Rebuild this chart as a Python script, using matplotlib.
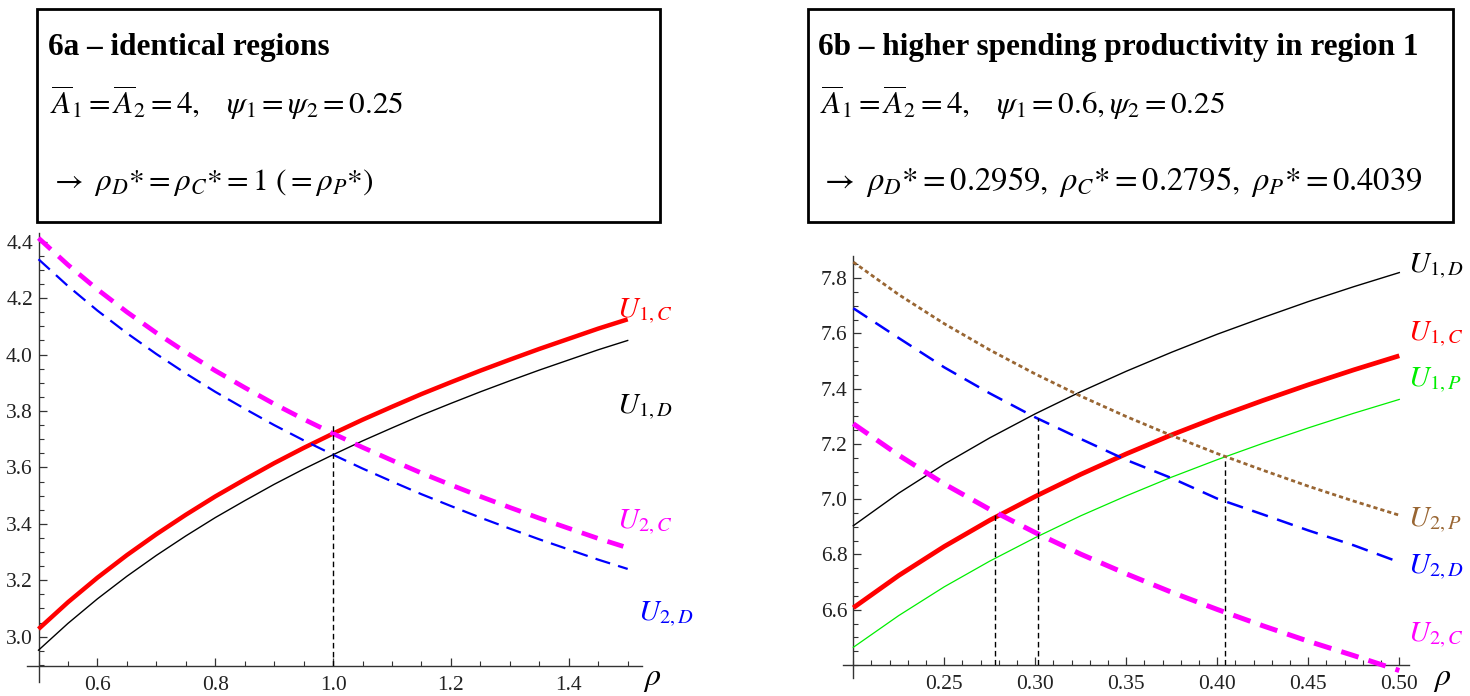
import matplotlib
matplotlib.use('Agg')
import matplotlib.pyplot as plt
from matplotlib.patches import Rectangle
from matplotlib.ticker import FixedLocator, MultipleLocator, FormatStrFormatter

plt.rcParams['font.family'] = ['Liberation Serif', 'DejaVu Serif']
plt.rcParams['mathtext.fontset'] = 'stix'
plt.rcParams['lines.scale_dashes'] = False

# ---------------- data : panel 6a ----------------
rho_a = [0.5, 0.55, 0.6, 0.65, 0.7, 0.75, 0.8, 0.85, 0.9, 0.95, 1.0,
         1.05, 1.1, 1.15, 1.2, 1.25, 1.3, 1.35, 1.4, 1.45, 1.5]
u1c_a = [3.027, 3.122, 3.209, 3.289, 3.363, 3.432, 3.497, 3.557, 3.615, 3.669, 3.720,
         3.769, 3.815, 3.860, 3.902, 3.943, 3.982, 4.020, 4.056, 4.092, 4.125]
u1d_a = [2.952, 3.047, 3.134, 3.214, 3.288, 3.357, 3.422, 3.482, 3.540, 3.594, 3.645,
         3.694, 3.740, 3.785, 3.827, 3.868, 3.907, 3.945, 3.981, 4.017, 4.050]
u2c_a = [4.413, 4.318, 4.231, 4.151, 4.077, 4.008, 3.943, 3.883, 3.825, 3.771, 3.720,
         3.671, 3.625, 3.580, 3.538, 3.497, 3.458, 3.420, 3.384, 3.348, 3.315]
u2d_a = [4.338, 4.243, 4.156, 4.076, 4.002, 3.933, 3.868, 3.808, 3.750, 3.696, 3.645,
         3.596, 3.550, 3.505, 3.463, 3.422, 3.383, 3.345, 3.309, 3.273, 3.240]
vline_a_x = [1.0]
vline_a_top = [3.752]
xticks_a = [0.6, 0.8, 1.0, 1.2, 1.4]
yticks_a = [3.0, 3.2, 3.4, 3.6, 3.8, 4.0, 4.2, 4.4]

# ---------------- data : panel 6b ----------------
rho_b = [0.2, 0.225, 0.25, 0.275, 0.3, 0.325, 0.35, 0.375, 0.4, 0.425, 0.45, 0.475, 0.5]
u1d_b = [6.904, 7.022, 7.127, 7.222, 7.309, 7.389, 7.463, 7.532, 7.597, 7.657, 7.715, 7.769, 7.820]
u1c_b = [6.607, 6.724, 6.829, 6.924, 7.010, 7.090, 7.164, 7.233, 7.297, 7.357, 7.414, 7.468, 7.519]
u1p_b = [6.464, 6.579, 6.683, 6.776, 6.861, 6.940, 7.012, 7.080, 7.143, 7.202, 7.258, 7.311, 7.361]
u2p_b = [7.858, 7.740, 7.635, 7.540, 7.453, 7.373, 7.299, 7.230, 7.165, 7.105, 7.047, 6.993, 6.942]
u2d_b = [7.691, 7.583, 7.477, 7.383, 7.296, 7.218, 7.142, 7.076, 7.002, 6.945, 6.887, 6.833, 6.772]
u2c_b = [7.273, 7.159, 7.055, 6.963, 6.879, 6.801, 6.730, 6.663, 6.601, 6.542, 6.486, 6.434, 6.380]
vline_b_x = [0.278, 0.3015, 0.4045]
vline_b_top = [6.955, 7.292, 7.150]
xticks_b = [0.25, 0.30, 0.35, 0.40, 0.45, 0.50]
yticks_b = [6.6, 6.8, 7.0, 7.2, 7.4, 7.6, 7.8]

W, H = 1470, 696
fig = plt.figure(figsize=(W / 100, H / 100), dpi=100)


def px_axes(l, r, t, b):
    return fig.add_axes([l / W, 1 - b / H, (r - l) / W, (b - t) / H])


def style_axes(ax, xt, yt, xminor, yminor, xfmt, yfmt, xext, yext):
    for s in ax.spines.values():
        s.set_visible(False)
    ax.plot([xext, 1], [0, 0], transform=ax.transAxes, color='#333333', lw=1.0, clip_on=False)
    ax.plot([0, 0], [yext, 1], transform=ax.transAxes, color='#333333', lw=1.0, clip_on=False)
    ax.xaxis.set_major_locator(FixedLocator(xt))
    ax.yaxis.set_major_locator(FixedLocator(yt))
    ax.xaxis.set_minor_locator(MultipleLocator(xminor))
    ax.yaxis.set_minor_locator(MultipleLocator(yminor))
    ax.xaxis.set_major_formatter(FormatStrFormatter(xfmt))
    ax.yaxis.set_major_formatter(FormatStrFormatter(yfmt))
    ax.tick_params(which='both', direction='in', top=False, right=False, colors='#333333',
                   labelcolor='#222222', labelsize=15.5)
    ax.tick_params(which='major', length=6, width=0.9)
    ax.tick_params(which='minor', length=3.5, width=0.8)
    ax.tick_params(axis='x', which='major', pad=7.5)
    ax.tick_params(axis='y', which='major', pad=4.0)
    ax.set_facecolor('none')


RED = '#ff0000'
MAG = '#ff00ff'
BLUE = '#0000ff'
GREEN = '#00ee00'
BROWN = '#996633'

# ---------------- panel 6a ----------------
axa = px_axes(38.5, 641.7, 233, 665.7)
axa.set_xlim(0.5, 1.5238)
axa.set_ylim(2.897, 4.431)
style_axes(axa, xticks_a, yticks_a, 0.05, 0.05, '%.1f', '%.1f', -0.019, -0.038)

axa.plot(rho_a, u1d_a, color='black', lw=1.0, clip_on=False)
axa.plot(rho_a, u1c_a, color=RED, lw=3.2, solid_capstyle='butt', clip_on=False)
axa.plot(rho_a, u2d_a, color=BLUE, lw=1.6, dashes=(11, 6), clip_on=False)
axa.plot(rho_a, u2c_a, color=MAG, lw=3.4, dashes=(12, 7.5), clip_on=False)
for x, top in zip(vline_a_x, vline_a_top):
    axa.plot([x, x], [2.897, top], color='black', lw=1.0, dashes=(4, 2.5))

lab = dict(fontsize=21, ha='left', va='baseline', clip_on=False)
axa.text(1.482, 4.133, r'$U_{1,C}$', color=RED, **lab)
axa.text(1.482, 3.793, r'$U_{1,D}$', color='black', **lab)
axa.text(1.482, 3.385, r'$U_{2,C}$', color=MAG, **lab)
axa.text(1.518, 3.056, r'$U_{2,D}$', color=BLUE, **lab)

# ---------------- panel 6b ----------------
axb = px_axes(853.3, 1409.3, 256, 665)
axb.set_xlim(0.2, 0.5055)
axb.set_ylim(6.4, 7.88)
style_axes(axb, xticks_b, yticks_b, 0.01, 0.05, '%.2f', '%.1f', -0.019, -0.032)

axb.plot(rho_b, u1d_b, color='black', lw=1.0, clip_on=False)
axb.plot(rho_b, u1p_b, color=GREEN, lw=0.9, clip_on=False)
axb.plot(rho_b, u1c_b, color=RED, lw=3.4, solid_capstyle='butt', clip_on=False)
axb.plot(rho_b, u2p_b, color=BROWN, lw=2.0, dashes=(3, 2.2), clip_on=False)
axb.plot(rho_b, u2d_b, color=BLUE, lw=1.8, dashes=(12, 7), clip_on=False)
axb.plot(rho_b, u2c_b, color=MAG, lw=3.6, dashes=(13, 7.5), clip_on=False)
for x, top in zip(vline_b_x, vline_b_top):
    axb.plot([x, x], [6.4, top], color='black', lw=1.0, dashes=(4, 2.5))

axb.text(0.5048, 7.821, r'$U_{1,D}$', color='black', **lab)
axb.text(0.5048, 7.575, r'$U_{1,C}$', color=RED, **lab)
axb.text(0.5048, 7.407, r'$U_{1,P}$', color=GREEN, **lab)
axb.text(0.5048, 6.900, r'$U_{2,P}$', color=BROWN, **lab)
axb.text(0.5048, 6.732, r'$U_{2,D}$', color=BLUE, **lab)
axb.text(0.5048, 6.487, r'$U_{2,C}$', color=MAG, **lab)

# rho axis labels
fig.text(652 / W, 1 - 680 / H, r'$\rho$', fontsize=23, ha='center', va='center')
fig.text(1442 / W, 1 - 680 / H, r'$\rho$', fontsize=23, ha='center', va='center')

# ---------------- text boxes ----------------
for (l, r) in [(37, 660), (808, 1453)]:
    fig.patches.append(Rectangle((l / W, 1 - 222 / H), (r - l) / W, (222 - 9) / H,
                                 transform=fig.transFigure, fill=False, lw=2.0, ec='black'))

fig.text(48 / W, 1 - 55 / H, '6a \u2013 identical regions', fontsize=22.5, fontweight='bold',
         ha='left', va='baseline')
fig.text(50 / W, 1 - 114 / H, r'$\overline{A}_1=\overline{A}_2=4,\quad \psi_1=\psi_2=0.25$',
         fontsize=22.5, ha='left', va='baseline')
fig.text(50 / W, 1 - 190 / H, r'$\rightarrow\ \rho_D{*}=\rho_C{*}=1\ \left(=\rho_P{*}\right)$',
         fontsize=22.5, ha='left', va='baseline')

fig.text(818 / W, 1 - 55 / H, '6b \u2013 higher spending productivity in region 1', fontsize=22.5,
         fontweight='bold', ha='left', va='baseline')
fig.text(820 / W, 1 - 114 / H, r'$\overline{A}_1=\overline{A}_2=4,\quad \psi_1=0.6,\psi_2=0.25$',
         fontsize=22.5, ha='left', va='baseline')
fig.text(820 / W, 1 - 190 / H,
         r'$\rightarrow\ \rho_D{*}=0.2959,\ \rho_C{*}=0.2795,\ \rho_P{*}=0.4039$',
         fontsize=23.5, ha='left', va='baseline')

fig.savefig('out.png', dpi=100, facecolor='white')
